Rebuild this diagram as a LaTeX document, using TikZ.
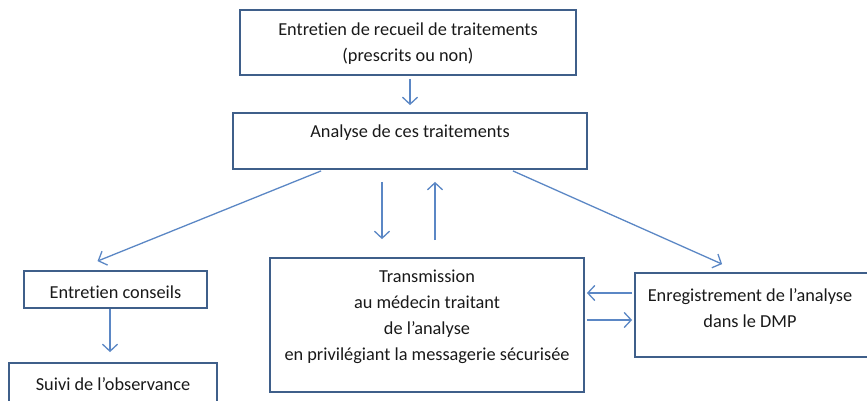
\documentclass[tikz,border=0pt]{standalone}
\usepackage{fontspec}
\setmainfont[Ligatures={NoCommon}]{Carlito}
\usetikzlibrary{arrows.meta,calc}
\definecolor{boxc}{HTML}{3F5F8A}
\definecolor{arrc}{HTML}{5B87C5}
\begin{document}
\begin{tikzpicture}[x=1pt,y=-1pt,
  box/.style={draw=boxc,line width=1.8pt,rectangle,inner sep=0pt},
  txt/.style={font=\fontsize{18.3}{26}\selectfont,align=center,inner sep=0pt,text=black!90},
  arr/.style={draw=arrc,line width=1.3pt,-{Straight Barb[length=7pt,width=15pt,line width=1.3pt]}}]
\useasboundingbox (0,0) rectangle (867,401);
\clip (0,0) rectangle (867,401);
% boxes
\node[box,minimum width=336pt,minimum height=65pt] (b1) at (408,42.5) {};
\node[txt] (t1) at (408,44) {Entretien de recueil de traitements\\(prescrits ou non)};
\node[box,minimum width=354pt,minimum height=56pt] (b2) at (410,141) {};
\node[txt] (t2) at (410,133) {Analyse de ces traitements};
\node[box,minimum width=183pt,minimum height=37pt] (b3) at (115.5,289.5) {};
\node[txt] (t3) at (115.5,292) {Entretien conseils};
\node[box,minimum width=208pt,minimum height=60pt] (b4) at (113,393) {};
\node[txt] (t4) at (113,384) {Suivi de l’observance};
\node[box,minimum width=314pt,minimum height=134pt] (b5) at (427,325) {};
\node[txt] (t5) at (427,317) {Transmission\\au médecin traitant\\de l’analyse\\en privilégiant la messagerie sécurisée};
\node[box,minimum width=250pt,minimum height=84pt] (b6) at (760,315) {};
\node[txt] (t6) at (750,308) {Enregistrement de l’analyse\\dans le DMP};
% arrows
\draw[arr] ($(b1.south)+(2,3)$) -- ($(b2.north)+(0,-7)$);
\draw[arr] ($(b2.south)+(-28,12)$) -- ($(b5.north)+(-45,-18)$);
\draw[arr] ($(b5.north)+(8,-17)$) -- ($(b2.south)+(25,12)$);
\draw[arr] ($(b2.south west)+(89,1)$) -- ($(b3.north)+(-18,-9)$);
\draw[arr] ($(b2.south east)+(-75,1)$) -- ($(b6.north west)+(88,-8)$);
\draw[arr] ($(b3.south)+(-5.5,0)$) -- ($(b4.north)+(-3,-10)$);
\draw[arr] ($(b6.west)+(-2,-22)$) -- ($(b5.east)+(2,-32)$);
\draw[arr] ($(b5.east)+(2,-5)$) -- ($(b6.west)+(-2,5)$);
\end{tikzpicture}
\end{document}
